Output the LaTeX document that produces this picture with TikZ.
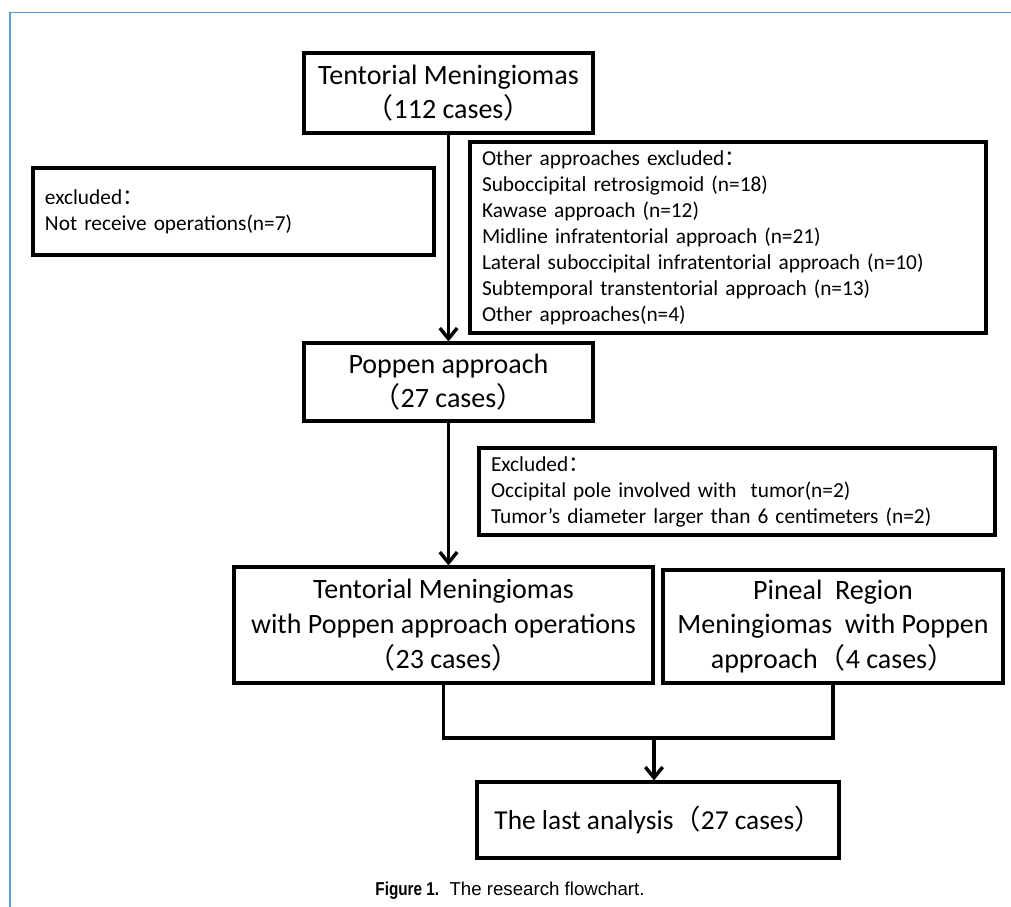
\documentclass[tikz,border=0pt]{standalone}
\usepackage{fontspec}
\setmainfont{Carlito}
\newfontfamily\cjk{Noto Sans CJK SC}
\newfontfamily\capfont{Liberation Sans}
\newfontfamily\figfont[FakeStretch=0.82]{Liberation Sans}
\usetikzlibrary{arrows.meta}
\definecolor{framecol}{RGB}{91,155,213}
\newcommand{\lp}{{\cjk （}}
\newcommand{\rp}{{\cjk ）}}
\newcommand{\fc}{{\cjk ：}}

\begin{document}
\begin{tikzpicture}[x=0.75pt,y=-0.75pt,
  box/.style={draw=black,line width=2.3pt,inner sep=0pt},
  bigbox/.style={box,align=center,font=\fontsize{21pt}{26pt}\selectfont},
  listbox/.style={box,align=left,inner xsep=9pt,font=\fontsize{16pt}{19.5pt}\selectfont},
  link/.style={line width=2.6pt},
  arr/.style={link,-{Straight Barb[length=8pt,width=13pt]}},
  frame/.style={draw=framecol,line width=1.3pt}]
\useasboundingbox (0,0) rectangle (1011,907);
\draw[frame] (1011,12.5) -- (10,12.5) -- (10,907);
\node[bigbox,minimum width=216.75pt,minimum height=60pt] (tentorial) at (448.5,93) {Tentorial Meningiomas\\\lp112 cases\rp};
\node[listbox,text width=282.75pt,minimum height=65.25pt] (noop) at (233.5,211.5) {excluded\fc\\Not receive operations(n=7)};
\node[listbox,text width=369pt,minimum height=143.25pt] (otherex) at (728,237.5) {Other approaches excluded\fc\\Suboccipital retrosigmoid (n=18)\\Kawase approach (n=12)\\Midline infratentorial approach (n=21)\\Lateral suboccipital infratentorial approach (n=10)\\Subtemporal transtentorial approach (n=13)\\Other approaches(n=4)};
\node[bigbox,minimum width=216.75pt,minimum height=58.5pt] (poppen) at (448.5,382) {Poppen approach\\\lp27 cases\rp};
\node[listbox,text width=369pt,minimum height=65.25pt] (sizeex) at (737,491.5) {Excluded\fc\\Occipital pole involved with\ \ tumor(n=2)\\Tumor’s diameter larger than 6 centimeters (n=2)};
\node[bigbox,minimum width=314.25pt,minimum height=87pt] (tentpop) at (443.5,625) {Tentorial Meningiomas\\with Poppen approach operations\\\lp23 cases\rp};
\node[bigbox,minimum width=255pt,minimum height=84.75pt] (pineal) at (833,626.5) {Pineal\ \ Region\\Meningiomas\ \ with Poppen\\approach\lp4 cases\rp};
\node[bigbox,minimum width=271.5pt,minimum height=57pt,font=\fontsize{20.5pt}{26pt}\selectfont] (last) at (658,820) {The last analysis\lp27 cases\rp};
\node[font=\capfont\fontsize{14pt}{16pt}\selectfont] (caption) at (510,891) {{\figfont\bfseries Figure 1.}\ \ The research flowchart.};
\coordinate (join) at (654,738);
\draw[arr] (tentorial.south) -- (poppen.north);
\draw[arr] (poppen.south) -- (poppen.south |- tentpop.north);
\draw[link] (tentpop.south) |- (join) -| (pineal.south);
\draw[arr] (join) -- (join |- last.north);
\end{tikzpicture}
\end{document}
